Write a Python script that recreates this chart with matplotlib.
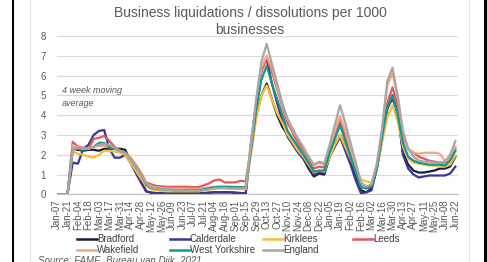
import matplotlib
matplotlib.use('agg')
from matplotlib import pyplot as plt
from matplotlib.lines import Line2D
from matplotlib.patches import Rectangle

plt.rcParams['font.family'] = ['Liberation Sans', 'DejaVu Sans']

# weekly tick labels (every second week is labelled)
week_labels = ['Jan-07', 'Jan-21', 'Feb-04', 'Feb-18', 'Mar-03', 'Mar-17', 'Mar-31', 'Apr-14',
               'Apr-28', 'May-12', 'May-26', 'Jun-09', 'Jun-23', 'Jul-07', 'Jul-21', 'Aug-04',
               'Aug-18', 'Sep-01', 'Sep-15', 'Sep-29', 'Oct-13', 'Oct-27', 'Nov-10', 'Nov-24',
               'Dec-08', 'Dec-22', 'Jan-05', 'Jan-19', 'Feb-02', 'Feb-16', 'Mar-02', 'Mar-16',
               'Mar-30', 'Apr-13', 'Apr-27', 'May-11', 'May-25', 'Jun-08', 'Jun-22']

bradford = [0, 0, 0,
            2.3, 2.25, 2.2, 2.25, 2.25, 2.2, 2.3, 2.3, 2.3, 2.3, 2.25,
            1.7, 1.2, 0.7, 0.15, 0.08,
            0.06, 0.05, 0.05, 0.05, 0.05, 0.05, 0.05, 0.05, 0.05, 0.06, 0.08, 0.1, 0.1, 0.1, 0.1, 0.08, 0.06, 0.05,
            2.4, 4.0, 5.0, 5.6,
            4.8, 4.0, 3.4, 3.0, 2.6, 2.2, 1.8, 1.3, 0.9, 1.05, 1.0,
            1.9, 2.5, 3.0,
            2.4, 1.6, 0.9, 0.2, 0.1, 0.3,
            1.3, 2.8, 4.3, 5.0,
            4.1, 2.1, 1.5, 1.2, 1.1,
            1.1, 1.15, 1.2, 1.3, 1.3, 1.4, 1.9]
calderdale = [0, 0, 0,
              1.6, 1.55, 2.3, 2.5, 3.0, 3.2, 3.25, 2.3, 1.85, 1.85, 2.0,
              1.6, 1.1, 0.6, 0.15, 0.08,
              0.06, 0.05, 0.05, 0.05, 0.05, 0.05, 0.05, 0.05, 0.05, 0.05, 0.08, 0.1, 0.1, 0.1, 0.1, 0.08, 0.06, 0.05,
              2.6, 4.6, 6.3, 6.85,
              5.6, 4.6, 3.7, 2.9, 2.5, 2.1, 1.8, 1.4, 1.0, 1.1, 1.1,
              1.9, 2.4, 2.9,
              2.2, 1.5, 0.7, 0.05, 0.1, 0.2,
              1.3, 2.7, 4.4, 4.8,
              4.2, 2.0, 1.3, 1.0, 0.85,
              0.9, 0.95, 0.95, 0.95, 0.95, 1.05, 1.4]
kirklees = [0, 0, 0,
            2.15, 2.05, 2.0, 1.9, 1.85, 2.0, 2.2, 2.2, 2.15, 2.1, 2.0,
            1.6, 1.2, 0.8, 0.4, 0.25,
            0.2, 0.18, 0.15, 0.15, 0.15, 0.15, 0.15, 0.15, 0.15, 0.2, 0.25, 0.28, 0.3, 0.3, 0.28, 0.28, 0.25, 0.25,
            2.0, 3.8, 5.0, 5.5,
            4.8, 4.1, 3.6, 3.0, 2.6, 2.2, 1.9, 1.5, 1.1, 1.2, 1.15,
            1.9, 2.5, 3.0,
            2.4, 1.8, 1.2, 0.75, 0.65, 0.6,
            1.3, 2.6, 3.9, 4.5,
            3.7, 2.4, 1.8, 1.6, 1.55,
            1.5, 1.45, 1.45, 1.4, 1.4, 1.5, 1.95]
leeds = [0, 0, 0,
         2.65, 2.4, 2.35, 2.3, 2.8, 2.85, 2.95, 2.7, 2.4, 2.2, 2.1,
         1.85, 1.5, 1.1, 0.6, 0.5,
         0.42, 0.4, 0.38, 0.38, 0.38, 0.38, 0.38, 0.36, 0.36, 0.45, 0.55, 0.7, 0.75, 0.6, 0.6, 0.6, 0.68, 0.65,
         2.3, 4.3, 6.2, 6.9,
         6.2, 5.3, 4.4, 3.6, 3.1, 2.6, 2.2, 1.8, 1.3, 1.4, 1.35,
         2.3, 3.0, 3.7,
         2.9, 2.0, 1.2, 0.4, 0.3, 0.4,
         1.4, 3.0, 4.6, 5.4,
         4.5, 2.9, 2.3, 2.1, 1.9,
         1.8, 1.7, 1.65, 1.6, 1.6, 1.8, 2.3]
wakefield = [0, 0, 0,
             2.5, 2.35, 2.3, 2.3, 2.4, 2.45, 2.45, 2.4, 2.3, 2.2, 2.1,
             1.85, 1.45, 1.05, 0.55, 0.4,
             0.35, 0.32, 0.3, 0.28, 0.28, 0.28, 0.28, 0.28, 0.28, 0.3, 0.35, 0.38, 0.38, 0.38, 0.38, 0.38, 0.38, 0.35,
             2.6, 4.7, 6.4, 7.0,
             6.4, 5.4, 4.5, 3.8, 3.2, 2.8, 2.4, 1.9, 1.45, 1.6, 1.5,
             2.3, 3.2, 3.95,
             3.2, 2.3, 1.4, 0.5, 0.35, 0.45,
             1.5, 3.2, 5.5, 6.1,
             5.0, 3.0, 2.3, 2.1, 2.05,
             2.1, 2.1, 2.1, 2.05, 1.7, 1.75, 2.4]
west_yorkshire = [0, 0, 0,
                  2.3, 2.3, 2.25, 2.3, 2.4, 2.6, 2.6, 2.4, 2.3, 2.2, 2.1,
                  1.8, 1.4, 1.0, 0.5, 0.32,
                  0.28, 0.25, 0.23, 0.22, 0.2, 0.2, 0.2, 0.2, 0.2, 0.25, 0.3, 0.35, 0.38, 0.38, 0.37, 0.36, 0.36, 0.35,
                  2.2, 4.3, 5.8, 6.5,
                  5.6, 4.8, 4.0, 3.2, 2.8, 2.4, 2.0, 1.6, 1.15, 1.2, 1.2,
                  2.1, 2.8, 3.5,
                  2.7, 1.9, 1.1, 0.35, 0.3, 0.4,
                  1.3, 2.9, 4.4, 5.0,
                  4.0, 2.6, 1.9, 1.7, 1.6,
                  1.55, 1.5, 1.5, 1.5, 1.45, 1.7, 2.2]
england = [0, 0, 0,
           2.3, 2.35, 2.3, 2.3, 2.4, 2.5, 2.55, 2.5, 2.35, 2.2, 2.1,
           1.8, 1.4, 1.0, 0.55, 0.35,
           0.3, 0.25, 0.22, 0.2, 0.2, 0.18, 0.18, 0.18, 0.18, 0.2, 0.25, 0.3, 0.32, 0.32, 0.3, 0.3, 0.3, 0.3,
           2.4, 4.8, 6.7, 7.6,
           6.6, 5.6, 4.6, 3.8, 3.3, 2.8, 2.3, 1.9, 1.5, 1.65, 1.55,
           2.5, 3.5, 4.5,
           3.6, 2.6, 1.6, 0.6, 0.4, 0.5,
           1.5, 3.3, 5.7, 6.4,
           4.9, 3.2, 2.3, 1.9, 1.7,
           1.65, 1.65, 1.6, 1.6, 1.65, 2.0, 2.7]

series = [('Bradford', bradford, '#1c1c3a'),
          ('Calderdale', calderdale, '#3d3496'),
          ('Kirklees', kirklees, '#f7be36'),
          ('Leeds', leeds, '#e9545d'),
          ('Wakefield', wakefield, '#f4a582'),
          ('West Yorkshire', west_yorkshire, '#13998a'),
          ('England', england, '#a6a6a6')]

W, H = 487, 262
fig = plt.figure(figsize=(W / 100, H / 100), dpi=100)
fig.patch.set_facecolor('white')

# frame bits of the screenshot
fig.add_artist(Rectangle((12 / W, 0), 2 / W, 1, transform=fig.transFigure, color='black', lw=0))
fig.add_artist(Rectangle((484 / W, 0), 3 / W, 1, transform=fig.transFigure, color='black', lw=0))
fig.add_artist(Line2D([30 / W, 30 / W], [0, 1], transform=fig.transFigure, color='#e2e2e2', lw=0.8))
fig.add_artist(Line2D([469 / W, 469 / W], [0, 1], transform=fig.transFigure, color='#e2e2e2', lw=0.8))

ax = fig.add_axes([57 / W, (H - 194.3) / H, 401 / W, 158.3 / H])
x = list(range(len(england)))
for name, vals, col in series:
    ax.plot(x, vals, color=col, lw=1.6, solid_joinstyle='round')

ax.set_xlim(0, 76.5)
ax.set_ylim(0, 8)
ax.set_yticks(range(0, 9))
ax.set_xticks(range(0, 77, 2))
ax.set_xticklabels(week_labels, rotation=90)
ax.tick_params(axis='both', length=0, labelsize=7, labelcolor='#595959')
ax.tick_params(axis='y', pad=8)
ax.tick_params(axis='x', pad=4)
ax.grid(axis='y', color='#d9d9d9', lw=0.8)
ax.set_axisbelow(True)
for s in ['top', 'right', 'left']:
    ax.spines[s].set_visible(False)
ax.spines['bottom'].set_color('#bfbfbf')

fig.text(250 / W, 1 - 21.5 / H, 'Business liquidations / dissolutions per 1000\nbusinesses',
         ha='center', va='center', fontsize=10, color='#595959', linespacing=1.25)
ax.text(62 / W, 1 - 97 / H, '4 week moving\naverage', transform=fig.transFigure, ha='left', va='center',
        fontsize=6.5, style='italic', color='#595959', linespacing=1.5)

# legend, laid out like the Excel one
leg_cols = [77, 170, 263, 353]
leg_rows = [239, 250]
for k, (name, vals, col) in enumerate(series):
    cx = leg_cols[k % 4]
    cy = 1 - leg_rows[k // 4] / H
    fig.add_artist(Line2D([cx / W, (cx + 20) / W], [cy, cy], transform=fig.transFigure, color=col, lw=1.8))
    fig.text((cx + 20) / W, cy, name, ha='left', va='center', fontsize=7, color='#404040')

fig.text(38 / W, 1 - 260.5 / H, 'Source: FAME, Bureau van Dijk, 2021', ha='left', va='center',
         fontsize=7, style='italic', color='#595959')

plt.savefig('out.png', dpi=100, facecolor='white')
